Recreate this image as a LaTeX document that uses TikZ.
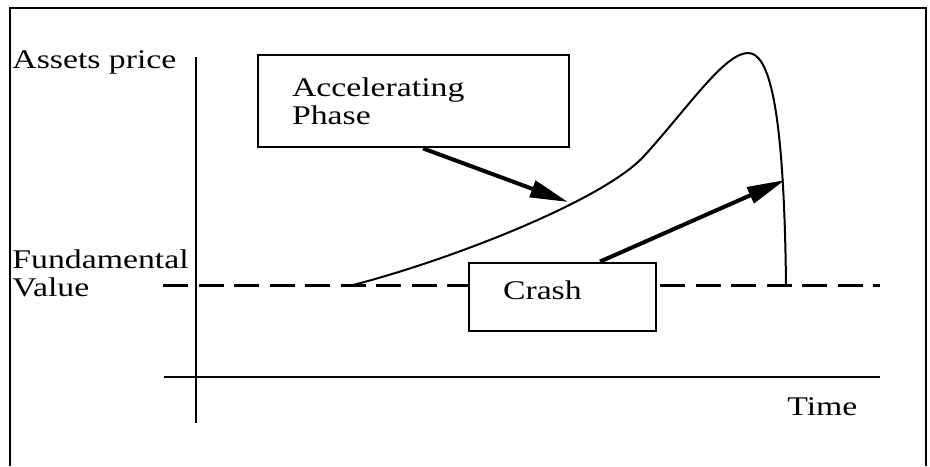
\documentclass[tikz,border=0pt]{standalone}
\usepackage{fontspec}
\setmainfont{Liberation Serif}[FakeStretch=1.25]
\usetikzlibrary{arrows.meta}

\begin{document}
\begin{tikzpicture}[x=0.5pt,y=-0.5pt,
    font=\fontsize{13.5}{14}\selectfont,
    box/.style={draw,line width=1.4pt,fill=white,align=left,inner xsep=17pt,inner ysep=0pt},
    lbl/.style={inner sep=0pt},
    pointer/.style={line width=2pt,-{Triangle[length=19pt,width=8.5pt]}}]
  \useasboundingbox (0,0) rectangle (930,466);
  % frame
  \draw[line width=1pt] (10,466) -- (10,8) -- (926,8) -- (926,466);
  % axes
  \draw[line width=1.3pt] (196,57) -- (196,423);
  \draw[line width=1.3pt] (164,377) -- (880,377);
  % fundamental value
  \draw[line width=1.5pt,dash pattern=on 12.5pt off 5.25pt] (163,285) -- (880,285);
  % price path
  \draw[line width=1pt] (353,285) .. controls (450,260) and (605,200) .. (645,155)
    .. controls (690,105) and (725,53) .. (748,53)
    .. controls (768,53) and (784,100) .. (786,285);
  % labels
  \node[lbl,anchor=base west] (price) at (12,68) {Assets price};
  \node[lbl,anchor=north west,align=left] (fund) at (12,249) {Fundamental\\Value};
  \node[lbl,anchor=base west] (time) at (787,415) {Time};
  % boxes
  \node[box,text width=121.5pt,minimum height=46pt] (acc) at (413.5,101) {Accelerating\\Phase};
  \node[box,text width=59.5pt,minimum height=34pt,text depth=7pt] (crash) at (562.5,297) {Crash};
  \coordinate (accTip) at (568,202);
  \coordinate (crashTip) at (785,180);
  \draw[pointer] ([xshift=4.75pt]acc.south) -- (accTip);
  \draw[pointer] ([xshift=18.75pt]crash.north) -- (crashTip);
\end{tikzpicture}
\end{document}
